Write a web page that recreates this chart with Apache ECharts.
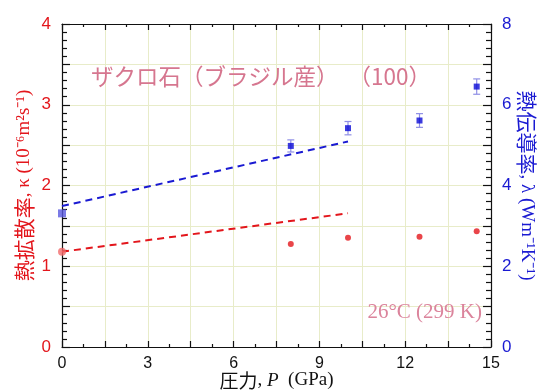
<!DOCTYPE html>
<html>
<head>
<meta charset="utf-8">
<script src="https://cdn.jsdelivr.net/npm/echarts@6/dist/echarts.min.js"></script>
<style>
html,body{margin:0;padding:0;background:#fff;}
#c{width:542px;height:390px;}
</style>
</head>
<body>
<div id="c"></div>
<script>
// ---- data ----
const pressure = [8, 10, 12.5, 14.5];               // GPa
const diffusivity = [1.275, 1.354, 1.366, 1.433];   // 10^-6 m^2 s^-1 (left axis)
const conductivity = [4.98, 5.42, 5.61, 6.45];      // W m^-1 K^-1 (right axis)
const conductivityErr = [0.15, 0.165, 0.17, 0.19];
const ambientPressure = [0];
const ambientDiffusivity = [1.18];
const ambientConductivity = [3.31];
const diffFitP = [0, 10];
const diffFitV = [1.18, 1.656];
const condFitP = [0, 10];
const condFitV = [3.49, 5.09];
const xTicks = [0, 3, 6, 9, 12, 15];
const leftTicks = [0, 1, 2, 3, 4];
const rightTicks = [0, 2, 4, 6, 8];

const RED = '#e3161c';
const BLUE = '#1a1ad2';
const PINK = '#d6768f';
const GRIDC = '#e8ecc9';
const TICK = '#111';
const SANS = '"Liberation Sans", Arial, sans-serif';
const JP = '"Noto Sans CJK JP", sans-serif';
const SERIF = '"Liberation Serif", "Times New Roman", serif';

const zip = (a, b) => a.map((v, i) => [v, b[i]]);

const chart = echarts.init(document.getElementById('c'));

chart.setOption({
  animation: false,
  backgroundColor: '#fff',
  grid: {left: 62, right: 51, top: 24, bottom: 43, outerBoundsMode: 'none', containLabel: false},
  xAxis: [{
    type: 'value', min: 0, max: 15, interval: 1.5, position: 'bottom', z: 5,
    axisLine: {show: true, onZero: false, lineStyle: {color: '#111', width: 1.2}},
    axisTick: {show: true, inside: true, length: 6, lineStyle: {color: TICK, width: 1.2}},
    minorTick: {show: true, splitNumber: 2, length: 3, lineStyle: {color: TICK, width: 1.2}},
    axisLabel: {
      color: '#111', fontSize: 16, fontFamily: SANS, margin: 9,
      formatter: v => xTicks.includes(Math.round(v * 100) / 100) ? String(v) : ''
    },
    splitLine: {show: false},
    name: '{jp|圧力}{sr|, }{it|P}{sr|  (GPa)}',
    nameLocation: 'middle', nameGap: 24, nameMoveOverlap: false,
    nameTextStyle: {
      rich: {
        jp: {fontFamily: JP, fontSize: 19, color: '#111'},
        sr: {fontFamily: SERIF, fontSize: 19, color: '#111'},
        it: {fontFamily: SERIF, fontSize: 19, fontStyle: 'italic', color: '#111'}
      }
    }
  }, {
    type: 'value', min: 0, max: 15, interval: 1.5, position: 'top', z: 5,
    axisLine: {show: true, onZero: false, lineStyle: {color: '#111', width: 1.2}},
    axisTick: {show: true, inside: true, length: 6, lineStyle: {color: TICK, width: 1.2}},
    minorTick: {show: true, splitNumber: 2, length: 3, lineStyle: {color: TICK, width: 1.2}},
    axisLabel: {show: false},
    splitLine: {show: true, lineStyle: {color: GRIDC, width: 1}}
  }],
  yAxis: [{
    type: 'value', min: 0, max: 4, interval: 0.5, position: 'left', z: 5,
    axisLine: {show: true, onZero: false, lineStyle: {color: '#111', width: 1.2}},
    axisTick: {show: true, inside: true, length: 8, lineStyle: {color: TICK, width: 1.2}},
    minorTick: {show: true, splitNumber: 5, length: 5, lineStyle: {color: TICK, width: 1.2}},
    axisLabel: {
      color: RED, fontSize: 17, fontFamily: SANS, margin: 11,
      formatter: v => leftTicks.includes(v) ? String(v) : ''
    },
    splitLine: {show: false},
    name: '{jp|熱拡散率}{sr|, }{gk|κ}{sr| (10⁻⁶m²s⁻¹)}',
    nameLocation: 'middle', nameGap: 27, nameRotate: 90, nameMoveOverlap: false,
    nameTextStyle: {
      rich: {
        jp: {fontFamily: JP, fontSize: 21, color: RED},
        sr: {fontFamily: SERIF, fontSize: 19, color: RED},
        gk: {fontFamily: SERIF, fontSize: 19, color: RED}
      }
    }
  }, {
    type: 'value', min: 0, max: 8, interval: 1, position: 'right', z: 5,
    axisLine: {show: true, onZero: false, lineStyle: {color: '#111', width: 1.2}},
    axisTick: {show: true, inside: true, length: 8, lineStyle: {color: TICK, width: 1.2}},
    minorTick: {show: true, splitNumber: 5, length: 5, lineStyle: {color: TICK, width: 1.2}},
    axisLabel: {
      color: BLUE, fontSize: 17, fontFamily: SANS, margin: 11,
      formatter: v => rightTicks.includes(v) ? String(v) : ''
    },
    splitLine: {show: true, lineStyle: {color: GRIDC, width: 1}},
    name: '{jp|熱伝導率}{sr|, }{gk|λ}{sr| (Wm⁻¹K⁻¹)}',
    nameLocation: 'middle', nameGap: 25, nameRotate: -90, nameMoveOverlap: false,
    nameTextStyle: {
      rich: {
        jp: {fontFamily: JP, fontSize: 21, color: BLUE},
        sr: {fontFamily: SERIF, fontSize: 19, color: BLUE},
        gk: {fontFamily: SERIF, fontSize: 19, color: BLUE}
      }
    }
  }],
  graphic: [{
    type: 'text', left: 91, top: 65, silent: true, z: 30,
    style: {text: 'ザクロ石（ブラジル産）  （100）', fill: PINK, font: '22.5px "Noto Sans CJK JP", sans-serif'}
  }, {
    type: 'text', right: 60, top: 302, silent: true, z: 30,
    style: {text: '26°C (299 K)', fill: '#db849c', font: '21px "Liberation Serif", serif'}
  }],
  series: [{
    type: 'line', xAxisIndex: 0, yAxisIndex: 0, data: zip(diffFitP, diffFitV),
    symbol: 'none', lineStyle: {color: RED, width: 2, type: [7, 5]}, z: 12
  }, {
    type: 'line', xAxisIndex: 0, yAxisIndex: 1, data: zip(condFitP, condFitV),
    symbol: 'none', lineStyle: {color: BLUE, width: 2, type: [7, 5]}, z: 12
  }, {
    type: 'custom', xAxisIndex: 0, yAxisIndex: 1,
    data: pressure.map((p, i) => [p, conductivity[i], conductivityErr[i]]),
    renderItem: (params, api) => {
      const x = api.value(0), y = api.value(1), e = api.value(2);
      const lo = api.coord([x, y - e]);
      const hi = api.coord([x, y + e]);
      const cw = 3.5;
      const st = {stroke: '#8f8fe6', lineWidth: 1.2};
      return {type: 'group', children: [
        {type: 'line', shape: {x1: lo[0], y1: lo[1], x2: hi[0], y2: hi[1]}, style: st},
        {type: 'line', shape: {x1: lo[0] - cw, y1: lo[1], x2: lo[0] + cw, y2: lo[1]}, style: st},
        {type: 'line', shape: {x1: hi[0] - cw, y1: hi[1], x2: hi[0] + cw, y2: hi[1]}, style: st}
      ]};
    },
    z: 13
  }, {
    type: 'scatter', xAxisIndex: 0, yAxisIndex: 0, data: zip(pressure, diffusivity),
    symbol: 'circle', symbolSize: 6, itemStyle: {color: RED}, z: 14
  }, {
    type: 'scatter', xAxisIndex: 0, yAxisIndex: 1, data: zip(pressure, conductivity),
    symbol: 'rect', symbolSize: 6, itemStyle: {color: '#0a0ad6'}, z: 14
  }, {
    type: 'scatter', xAxisIndex: 0, yAxisIndex: 0, data: zip(ambientPressure, ambientDiffusivity),
    symbol: 'circle', symbolSize: 8, itemStyle: {color: '#f26b6b'}, z: 15
  }, {
    type: 'scatter', xAxisIndex: 0, yAxisIndex: 1, data: zip(ambientPressure, ambientConductivity),
    symbol: 'rect', symbolSize: 8, itemStyle: {color: '#5a5ae0'}, z: 15
  }]
});
</script>
</body>
</html>
